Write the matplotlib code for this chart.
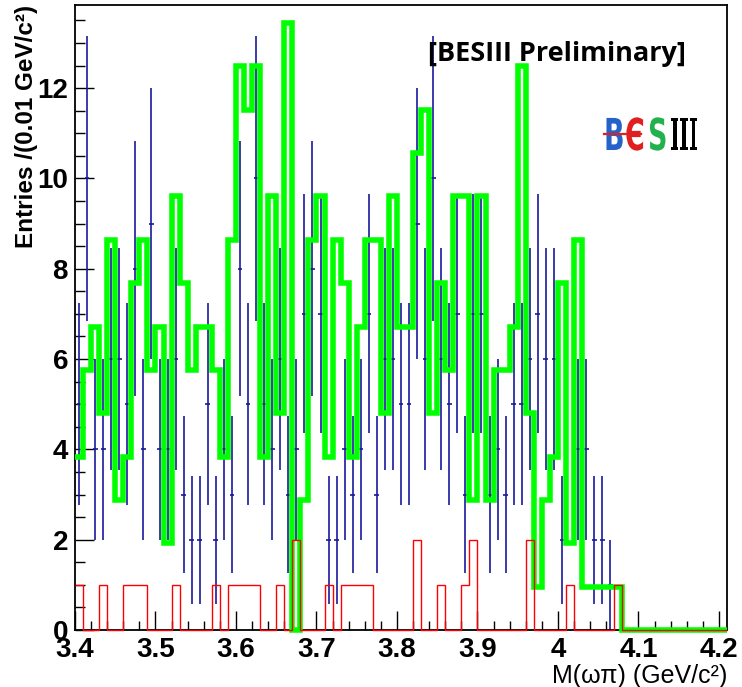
import numpy as np
import matplotlib
matplotlib.use('Agg')
import matplotlib.pyplot as plt
from matplotlib.textpath import TextPath
from matplotlib.patches import PathPatch
from matplotlib.font_manager import FontProperties
from matplotlib.transforms import Affine2D

# binning: 0.01 GeV/c^2 from 3.40 to 4.21
edges = np.round(np.linspace(3.40, 4.21, 82), 2)

# data entries per bin
data_counts = np.array([
    5, 10, 4, 4, 6, 6, 5, 8, 4, 9,
    4, 4, 6, 3, 2, 2, 5, 2, 4, 3,
    8, 5, 10, 5, 4, 6, 3, 4, 7, 8,
    7, 2, 2, 4, 3, 4, 7, 3, 6, 6,
    5, 5, 9, 6, 10, 6, 5, 7, 3, 7,
    7, 3, 4, 3, 5, 5, 6, 7, 6, 6,
    2, 0, 4, 4, 2, 2, 1, 0, 0, 0,
    0, 0, 0, 0, 0, 0, 0, 0, 0, 0, 0])

# scaled MC (green)
mc_values = np.array([
    3.84, 5.76, 6.72, 4.80, 8.64, 2.88, 3.84, 7.68, 8.64, 5.76,
    6.72, 1.92, 9.60, 7.68, 5.76, 6.72, 6.72, 5.76, 3.84, 8.64,
    12.48, 11.52, 12.48, 3.84, 9.60, 4.80, 13.44, 0.00, 2.88, 8.64,
    9.60, 3.84, 8.64, 7.68, 3.84, 6.72, 8.64, 8.64, 4.80, 9.60,
    6.72, 6.72, 10.56, 11.52, 4.80, 7.68, 5.76, 9.60, 9.60, 2.88,
    9.60, 2.88, 5.76, 5.76, 6.72, 12.48, 4.80, 0.96, 2.88, 3.84,
    7.68, 1.92, 8.64, 0.96, 0.96, 0.96, 0.96, 0.96, 0, 0,
    0, 0, 0, 0, 0, 0, 0, 0, 0, 0, 0])

# background (red)
bkg_counts = np.array([
    1, 0, 0, 1, 0, 0, 1, 1, 1, 0,
    0, 0, 1, 0, 0, 0, 0, 1, 0, 1,
    1, 1, 1, 0, 0, 1, 0, 2, 0, 0,
    0, 1, 0, 1, 1, 1, 1, 0, 0, 0,
    0, 0, 2, 0, 0, 1, 0, 0, 1, 2,
    0, 0, 0, 0, 0, 0, 2, 0, 0, 0,
    0, 1, 0, 0, 0, 0, 0, 1, 0, 0,
    0, 0, 0, 0, 0, 0, 0, 0, 0, 0, 0])

xticks = [3.4, 3.5, 3.6, 3.7, 3.8, 3.9, 4.0, 4.1, 4.2]
xticklabels = ['3.4', '3.5', '3.6', '3.7', '3.8', '3.9', '4', '4.1', '4.2']
yticks = [0, 2, 4, 6, 8, 10, 12]

plt.rcParams['font.family'] = ['Liberation Sans', 'DejaVu Sans']

W, H = 742, 687
fig = plt.figure(figsize=(W / 100, H / 100), dpi=100)
ax = fig.add_axes([75/W, 57/H, 652/W, 625/H])

centers = 0.5 * (edges[:-1] + edges[1:])
m = data_counts > 0
ax.errorbar(centers[m], data_counts[m], yerr=np.sqrt(data_counts[m]), xerr=0.003,
            fmt='none', ecolor='#1a1a9c', elinewidth=1.2, capsize=0, zorder=2)
ax.stairs(mc_values, edges, baseline=None, color='#00ff00', lw=4.0, zorder=3, clip_on=False)
ax.stairs(bkg_counts, edges, baseline=None, color='#ff0000', lw=1.0, zorder=4, clip_on=False)

ax.set_xlim(3.4, 4.21)
ax.set_ylim(0, 13.84)
ax.set_xticks(xticks)
ax.set_xticklabels(xticklabels)
ax.set_xticks(np.round(np.arange(3.4, 4.2001, 0.02), 2), minor=True)
ax.set_yticks(yticks)
ax.set_yticks(np.arange(0, 13.8, 0.5), minor=True)

ax.tick_params(axis='both', which='both', direction='in', top=False, right=False,
               width=1.0, labelsize=20)
ax.tick_params(axis='x', which='major', length=13.5, pad=5)
ax.tick_params(axis='x', which='minor', length=6.8)
ax.tick_params(axis='y', which='major', length=14, pad=5)
ax.tick_params(axis='y', which='minor', length=7)
for lab in ax.get_xticklabels() + ax.get_yticklabels():
    lab.set_fontweight('bold')
for sp in ax.spines.values():
    sp.set_linewidth(1.3)

fig.text(27/W, 1 - 5/H, 'Entries /(0.01 GeV/c²)', rotation=90, fontsize=17.5,
         fontweight='bold', ha='center', va='top')
ax.set_xlabel('M(ωπ) (GeV/c²)', loc='right', fontsize=18, labelpad=1)

ax.text(0.541, 0.922, '[BESIII Preliminary]', transform=ax.transAxes,
        fontsize=19.5, fontweight='bold', family='Open Sans', va='center', ha='left')


# BESIII logo, letters drawn as stretched glyph outlines (pixel units)
def logo_glyph(s, x, y, sx, sy, color, prop):
    tp = TextPath((0, 0), s, size=1, prop=prop)
    tr = Affine2D().scale(sx / W, sy / H).translate(x / W, y / H) + fig.transFigure
    fig.add_artist(PathPatch(tp, facecolor=color, edgecolor='none', transform=tr))


sans = FontProperties(family='DejaVu Sans', weight='bold')
serif = FontProperties(family='DejaVu Serif', weight='bold')
base = H - 150
logo_glyph('B', 604, base, 27, 44, '#2563c9', sans)
logo_glyph('Є', 625, base, 27, 44, '#e02020', sans)
logo_glyph('S', 648, base, 27, 44, '#22b14c', sans)
logo_glyph('III', 670, base, 20, 44, 'black', serif)
fig.add_artist(plt.Line2D([604 / W, 641 / W], [(H - 134) / H] * 2, color='#e02020', lw=1.6))

fig.savefig('out.png', dpi=100)
